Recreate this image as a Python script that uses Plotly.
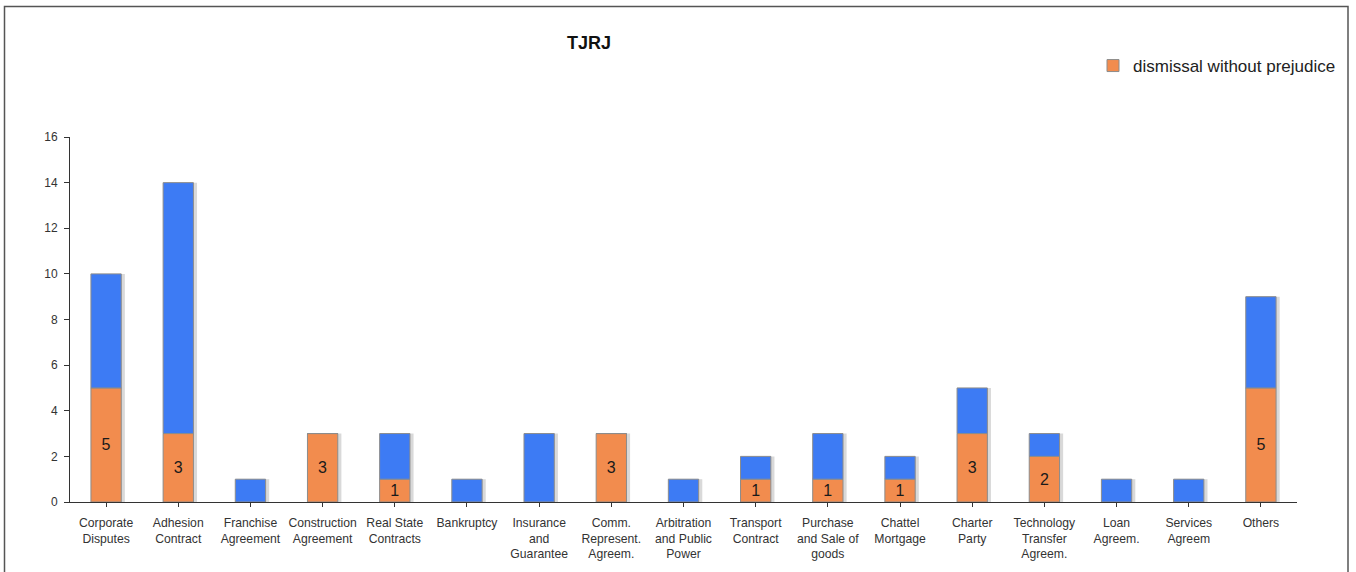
import plotly.graph_objects as go

# Contract categories (tick labels, line-broken as shown under the axis)
categories = [
    "Corporate<br>Disputes", "Adhesion<br>Contract", "Franchise<br>Agreement",
    "Construction<br>Agreement", "Real State<br>Contracts", "Bankruptcy",
    "Insurance<br>and<br>Guarantee", "Comm.<br>Represent.<br>Agreem.",
    "Arbitration<br>and Public<br>Power", "Transport<br>Contract",
    "Purchase<br>and Sale of<br>goods", "Chattel<br>Mortgage", "Charter<br>Party",
    "Technology<br>Transfer<br>Agreem.", "Loan<br>Agreem.", "Services<br>Agreem",
    "Others",
]

# Cases dismissed without prejudice (orange, bottom of each stack)
dismissal = [5, 3, 0, 3, 1, 0, 0, 3, 0, 1, 1, 1, 3, 2, 0, 0, 5]
# Remaining cases (blue, stacked on top)
other_cases = [5, 11, 1, 0, 2, 1, 3, 0, 1, 1, 2, 1, 2, 1, 1, 1, 4]

totals = [d + o for d, o in zip(dismissal, other_cases)]
x = list(range(len(categories)))

ORANGE = "#F28C4E"
BLUE = "#3D7BF4"
EDGE = "#8C8C8C"
BAR_W = 0.42

W, H = 1356, 572
L, R, T, B = 70, 59, 137, 70
pw, ph = W - L - R, H - T - B

fig = go.Figure()

# soft drop shadow behind each full stack
fig.add_trace(go.Bar(
    x=x, y=totals, width=BAR_W, offset=-BAR_W / 2 + 0.05,
    marker=dict(color="rgba(120,120,120,0.28)", line=dict(width=0)),
    showlegend=False, hoverinfo="skip",
))

fig.add_trace(go.Bar(
    x=x, y=dismissal, width=BAR_W, offset=-BAR_W / 2,
    name="dismissal without prejudice",
    marker=dict(color=ORANGE, line=dict(color=EDGE, width=1)),
    text=[str(v) if v > 0 else "" for v in dismissal],
    textposition="inside", insidetextanchor="middle", textangle=0,
    textfont=dict(size=16, color="#1a1a1a", family="Liberation Sans, Arial"),
    constraintext="none",
))

fig.add_trace(go.Bar(
    x=x, y=other_cases, base=dismissal, width=BAR_W, offset=-BAR_W / 2,
    name="other outcomes", showlegend=False,
    marker=dict(color=BLUE, line=dict(color=EDGE, width=1)),
))

fig.update_layout(
    width=W, height=H,
    margin=dict(l=L, r=R, t=T, b=B),
    barmode="overlay",
    plot_bgcolor="white", paper_bgcolor="white",
    font=dict(family="Liberation Sans, Arial, sans-serif", color="#333333", size=12),
    showlegend=True,
    legend=dict(
        x=(1093 - L) / pw, y=(H - B - 66) / ph, xanchor="left", yanchor="middle",
        font=dict(size=17, color="#222222"), itemwidth=30,
        bgcolor="rgba(0,0,0,0)", borderwidth=0, traceorder="normal",
    ),
    xaxis=dict(
        tickmode="array", tickvals=x, ticktext=categories,
        range=[-0.5, len(categories) - 0.5],
        showline=True, linecolor="#333333", linewidth=1,
        ticks="outside", ticklen=4, tickcolor="#333333", tickson="boundaries",
        ticklabelstandoff=5, automargin=False,
        showgrid=False, zeroline=False,
        tickfont=dict(size=12.2, color="#333333"),
    ),
    yaxis=dict(
        range=[0, 16], dtick=2,
        showline=True, linecolor="#333333", linewidth=1,
        ticks="outside", ticklen=5, tickcolor="#333333",
        ticklabelstandoff=4, automargin=False,
        showgrid=False, zeroline=False,
        tickfont=dict(size=12, color="#333333"),
    ),
    annotations=[dict(
        text="<b>TJRJ</b>", xref="paper", yref="paper",
        x=(589 - L) / pw, y=(H - B - 43) / ph,
        xanchor="center", yanchor="middle", showarrow=False,
        font=dict(size=18, color="#111111"),
    )],
    shapes=[dict(
        type="rect", xref="paper", yref="paper",
        x0=(4.5 - L) / pw, x1=(1348 - L) / pw,
        y0=(H - B - 600) / ph, y1=(H - B - 6.5) / ph,
        line=dict(color="#555555", width=1.5), layer="below",
    )],
)

fig.write_html("out.html")
